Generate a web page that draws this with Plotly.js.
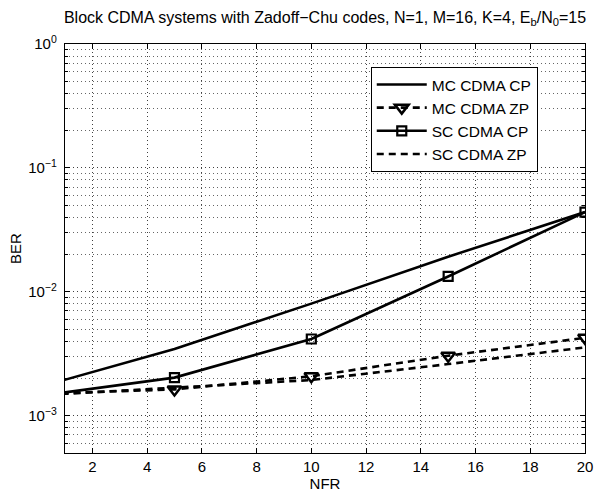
<!DOCTYPE html>
<html>
<head>
<meta charset="utf-8">
<script src="https://cdn.plot.ly/plotly-3.0.1.min.js"></script>
<style>
  html, body { margin: 0; padding: 0; background: #fff; }
  #chart { width: 594px; height: 493px; }
</style>
</head>
<body>
<div id="chart"></div>
<script>
// Normalised frequency range (simulation points)
const nfr = [0, 5, 10, 15, 20];

// Bit error rates per scheme
const mcCdmaCp = [1.69e-3, 3.46e-3, 8.03e-3, 1.92e-2, 4.4e-2];
const mcCdmaZp = [1.50e-3, 1.63e-3, 2.08e-3, 3.05e-3, 4.25e-3];
const scCdmaCp = [1.44e-3, 2.03e-3, 4.16e-3, 1.33e-2, 4.4e-2];
const scCdmaZp = [1.46e-3, 1.68e-3, 1.94e-3, 2.61e-3, 3.56e-3];

const seriesNames = ['MC CDMA CP', 'MC CDMA ZP', 'SC CDMA CP', 'SC CDMA ZP'];

// Axis tick labels
const xTicks = [2, 4, 6, 8, 10, 12, 14, 16, 18, 20];
const yTicks = [1e-3, 1e-2, 1e-1, 1];
const yTickText = ['10<sup>−3</sup>', '10<sup>−2</sup>', '10<sup>−1</sup>', '10<sup>0</sup>'];

// minor log ticks: 2..9 times each decade
const yMinor = [];
for (let e = -4; e < 0; e++) {
  for (let m = 2; m <= 9; m++) yMinor.push(m * Math.pow(10, e));
}

const FONT = 'Liberation Sans, Arial, Helvetica, sans-serif';
const TICK_SIZE = 15;
const LW = 2.6;
const DASH = '7px,5px';
const GRID_DASH = '1px,3px';

const traces = [
  { x: nfr, y: mcCdmaCp, name: seriesNames[0], mode: 'lines',
    line: { color: '#000', width: LW } },
  { x: nfr, y: mcCdmaZp, name: seriesNames[1], mode: 'lines+markers',
    line: { color: '#000', width: LW, dash: DASH },
    marker: { symbol: 'triangle-down-open', size: 12, color: '#000', line: { width: 2.5, color: '#000' } } },
  { x: nfr, y: scCdmaCp, name: seriesNames[2], mode: 'lines+markers',
    line: { color: '#000', width: LW },
    marker: { symbol: 'square-open', size: 9, color: '#000', line: { width: 2.2, color: '#000' } } },
  { x: nfr, y: scCdmaZp, name: seriesNames[3], mode: 'lines',
    line: { color: '#000', width: LW, dash: DASH } }
];

const gridColor = 'rgba(0,0,0,0.75)';

const layout = {
  width: 594, height: 493,
  margin: { l: 65, r: 9, t: 44, b: 40 },
  paper_bgcolor: '#fff', plot_bgcolor: '#fff',
  font: { family: FONT, size: 14, color: '#000' },
  showlegend: true,
  title: {
    text: 'Block CDMA systems with Zadoff−Chu codes, N=1, M=16, K=4, E<sub>b</sub>/N<sub>0</sub>=15',
    font: { family: FONT, size: 16, color: '#000' },
    x: 0.5, xref: 'paper', xanchor: 'center', y: 0.965, yanchor: 'middle'
  },
  xaxis: {
    type: 'linear', range: [1, 20],
    tickmode: 'array', tickvals: xTicks,
    ticks: 'inside', ticklen: 5, tickwidth: 1, tickcolor: '#000',
    showline: true, linecolor: '#000', linewidth: 1.2, mirror: 'allticks',
    showgrid: true, gridcolor: gridColor, gridwidth: 1, griddash: GRID_DASH,
    zeroline: false,
    tickfont: { family: FONT, size: TICK_SIZE, color: '#000' },
    title: { text: 'NFR', font: { family: FONT, size: 15 }, standoff: 1 }
  },
  yaxis: {
    type: 'log', range: [Math.log10(5e-4), 0],
    tickmode: 'array', tickvals: yTicks, ticktext: yTickText,
    ticks: 'inside', ticklen: 5, tickwidth: 1, tickcolor: '#000',
    showline: true, linecolor: '#000', linewidth: 1.2, mirror: 'allticks',
    showgrid: true, gridcolor: gridColor, gridwidth: 1, griddash: GRID_DASH,
    zeroline: false,
    tickfont: { family: FONT, size: TICK_SIZE, color: '#000' },
    ticklabelstandoff: 4,
    minor: {
      tickmode: 'array', tickvals: yMinor,
      ticks: 'inside', ticklen: 3, tickcolor: '#000',
      showgrid: true, gridcolor: 'rgba(0,0,0,0.6)', gridwidth: 1, griddash: GRID_DASH
    },
    title: { text: 'BER', font: { family: FONT, size: 15 }, standoff: 2 }
  },
  legend: {
    x: 0.588, y: 0.944, xanchor: 'left', yanchor: 'top',
    xref: 'paper', yref: 'paper',
    bgcolor: '#fff', bordercolor: '#000', borderwidth: 1,
    font: { family: FONT, size: 15.5, color: '#000' },
    itemwidth: 50, tracegroupgap: 0
  }
};

Plotly.newPlot('chart', traces, layout, { displayModeBar: false, staticPlot: true });
</script>
</body>
</html>
